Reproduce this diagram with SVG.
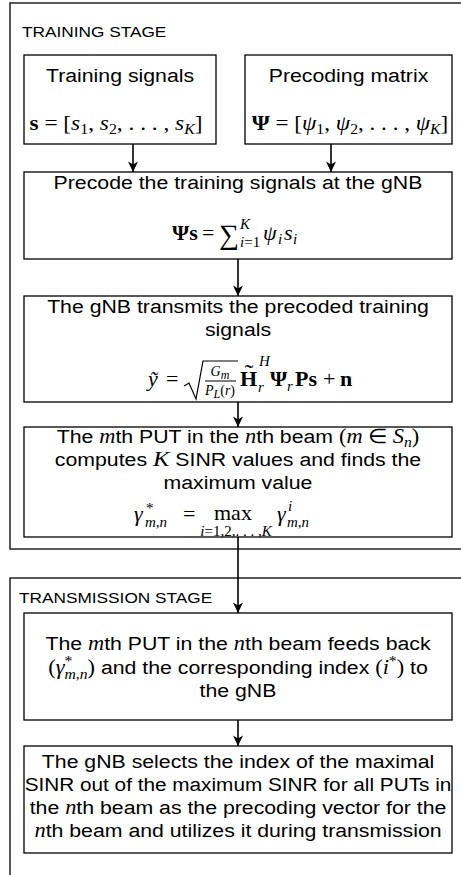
<svg xmlns="http://www.w3.org/2000/svg" width="461" height="875" viewBox="0 0 461 875">
<defs>
<style>
.stage{fill:none;stroke:#000;stroke-width:1.3}
.box{fill:#fff;stroke:#000;stroke-width:1.3}
.st{font-family:"Liberation Sans",Arial,sans-serif;font-size:15px;fill:#000}
.lbl{font-family:"Liberation Sans",Arial,sans-serif;font-size:19px;fill:#000;text-anchor:middle}
.mr{font-family:"Liberation Serif","Times New Roman",serif;font-size:22px;font-style:normal;font-weight:normal}
.mi{font-family:"Liberation Serif","Times New Roman",serif;font-size:22px;font-style:italic;font-weight:normal}
.mb{font-family:"Liberation Serif","Times New Roman",serif;font-size:22px;font-style:normal;font-weight:bold}
.lbl .mi,.lbl .mr{font-size:20px}
.sm{font-size:15px}
.lbl .sm{font-size:14px}
.f14{font-size:14px}
.f15{font-size:15px}
.f12{font-size:12px}
.mid{text-anchor:middle}
.rad{fill:none;stroke:#000;stroke-width:1.2;stroke-linejoin:miter}
.conn line{stroke:#000;stroke-width:1.6;fill:none;marker-end:url(#arr)}
</style>
<marker id="arr" markerWidth="12" markerHeight="12" refX="11" refY="6" orient="auto" markerUnits="userSpaceOnUse">
<path d="M0.5,1 L11,6 L0.5,11 L3.5,6 Z" fill="#000"/>
</marker>
</defs>
<rect x="0" y="0" width="461" height="875" fill="#fff"/>

<g id="training-stage">
<rect class="stage" x="10" y="3" width="470" height="546"/>
<text class="st" transform="translate(22 0) scale(1.15 1)" x="0" y="37">TRAINING STAGE</text>
</g>
<g id="transmission-stage">
<rect class="stage" x="10" y="578" width="470" height="320"/>
<text class="st" transform="translate(19 0) scale(1.15 1)" x="0" y="603">TRANSMISSION STAGE</text>
</g>

<g id="training-signals">
<rect class="box" x="24" y="55" width="192" height="89"/>
<text class="lbl" transform="translate(120 0) scale(1.12 1)" x="0" y="82">Training signals</text>
<text class="mr mid" transform="translate(116 0) scale(1.06 1)" x="0" y="130"><tspan class="mb">s</tspan> = [<tspan class="mi">s</tspan><tspan class="sm" dy="4">1</tspan><tspan dy="-4">, </tspan><tspan class="mi">s</tspan><tspan class="sm" dy="4">2</tspan><tspan dy="-4">, . . . , </tspan><tspan class="mi">s</tspan><tspan class="mi sm" dy="4">K</tspan><tspan dy="-4">]</tspan></text>
</g>

<g id="precoding-matrix">
<rect class="box" x="245" y="55" width="207" height="89"/>
<text class="lbl" transform="translate(348.5 0) scale(1.12 1)" x="0" y="82">Precoding matrix</text>
<text class="mr mid" transform="translate(350 0) scale(1.05 1)" x="0" y="130"><tspan class="mb">Ψ</tspan> = [<tspan class="mi">ψ</tspan><tspan class="sm" dy="4">1</tspan><tspan dy="-4">, </tspan><tspan class="mi">ψ</tspan><tspan class="sm" dy="4">2</tspan><tspan dy="-4">, . . . , </tspan><tspan class="mi">ψ</tspan><tspan class="mi sm" dy="4">K</tspan><tspan dy="-4">]</tspan></text>
</g>

<g id="precode">
<rect class="box" x="24" y="172" width="428" height="87"/>
<text class="lbl" transform="translate(238 0) scale(1.12 1)" x="0" y="189">Precode the training signals at the gNB</text>
<text class="mb" x="172" y="240">Ψs</text>
<text class="mr" x="202" y="240">=</text>
<text class="mr" x="219" y="244" style="font-size:28px">∑</text>
<text class="mi sm" x="240" y="229">K</text>
<text class="sm" x="240" y="247"><tspan class="mi sm">i</tspan><tspan class="mr sm">=1</tspan></text>
<text class="mi" x="263" y="240">ψ</text>
<text class="mi sm" x="278" y="244">i</text>
<text class="mi" x="284" y="240">s</text>
<text class="mi sm" x="293" y="244">i</text>
</g>

<g id="transmit">
<rect class="box" x="24" y="296" width="428" height="106"/>
<text class="lbl" transform="translate(238 0) scale(1.12 1)" x="0" y="313">The gNB transmits the precoded training</text>
<text class="lbl" transform="translate(238 0) scale(1.12 1)" x="0" y="336">signals</text>
<text class="mi" x="148" y="386">ỹ</text>
<text class="mr" x="166" y="386">=</text>
<polyline class="rad" points="184,386 189,383 196,399 203,361 238,361"/>
<text class="mi mid f14" x="220" y="376">G<tspan class="f12" dy="3">m</tspan></text>
<line x1="205" y1="381" x2="236" y2="381" stroke="#000" stroke-width="1"/>
<text class="mi mid f14" x="220" y="395">P<tspan class="f12" dy="3">L</tspan><tspan class="mr f14" dy="-3">(</tspan>r<tspan class="mr f14">)</tspan></text>
<text class="mb" x="240" y="386">H</text>
<text class="mr mid" x="249" y="382" style="font-size:26px">˜</text>
<text class="mi sm" x="259" y="366">H</text>
<text class="mi sm" x="258" y="392">r</text>
<text class="mb" x="270" y="386">Ψ</text>
<text class="mi sm" x="287" y="391">r</text>
<text class="mb" x="295" y="386">Ps</text>
<text class="mr" x="323" y="386">+</text>
<text class="mb" x="340" y="386">n</text>
</g>

<g id="compute-sinr">
<rect class="box" x="24" y="427" width="428" height="110"/>
<text class="lbl" transform="translate(238 0) scale(1.12 1)" x="0" y="443">The <tspan class="mi">m</tspan>th PUT in the <tspan class="mi">n</tspan>th beam <tspan class="mr">(</tspan><tspan class="mi">m</tspan><tspan class="mr"> ∈ </tspan><tspan class="mi">S</tspan><tspan class="mi sm" dy="4">n</tspan><tspan class="mr" dy="-4">)</tspan></text>
<text class="lbl" transform="translate(238 0) scale(1.12 1)" x="0" y="466">computes <tspan class="mi" style="font-size:22px">K</tspan> SINR values and finds the</text>
<text class="lbl" transform="translate(238 0) scale(1.12 1)" x="0" y="489">maximum value</text>
<text class="mi" x="134" y="521">γ</text>
<text class="mr sm" x="146" y="513">*</text>
<text class="mi sm" x="145" y="527">m,n</text>
<text class="mr" x="183" y="521">=</text>
<text class="mr" x="214" y="520">max</text>
<text class="mid" x="236" y="536"><tspan class="mi f15">i</tspan><tspan class="mr f15">=1,2,. . . ,</tspan><tspan class="mi f15">K</tspan></text>
<text class="mi" x="277" y="521">γ</text>
<text class="mi sm" x="288" y="511">i</text>
<text class="mi sm" x="287" y="527">m,n</text>
</g>

<g id="feedback">
<rect class="box" x="24" y="613" width="428" height="107"/>
<text class="lbl" transform="translate(238 0) scale(1.12 1)" x="0" y="650">The <tspan class="mi">m</tspan>th PUT in the <tspan class="mi">n</tspan>th beam feeds back</text>
<text class="lbl" transform="translate(238 0) scale(1.12 1)" x="0" y="674"><tspan class="mr">(</tspan><tspan class="mi">γ</tspan><tspan class="mr sm" dy="-8">*</tspan><tspan class="mi sm" dx="-7" dy="13">m,n</tspan><tspan class="mr" dy="-5">)</tspan> and the corresponding index <tspan class="mr">(</tspan><tspan class="mi">i</tspan><tspan class="mr sm" dy="-8">*</tspan><tspan class="mr" dy="8">)</tspan> to</text>
<text class="lbl" transform="translate(238 0) scale(1.12 1)" x="0" y="697">the gNB</text>
</g>

<g id="select">
<rect class="box" x="24" y="746" width="428" height="107"/>
<text class="lbl" transform="translate(238 0) scale(1.12 1)" x="0" y="768">The gNB selects the index of the maximal</text>
<text class="lbl" transform="translate(238 0) scale(1.12 1)" x="0" y="791" textLength="381" lengthAdjust="spacingAndGlyphs">SINR out of the maximum SINR for all PUTs in</text>
<text class="lbl" transform="translate(238 0) scale(1.12 1)" x="0" y="814">the <tspan class="mi">n</tspan>th beam as the precoding vector for the</text>
<text class="lbl" transform="translate(238 0) scale(1.12 1)" x="0" y="837"><tspan class="mi">n</tspan>th beam and utilizes it during transmission</text>
</g>

<g id="connectors" class="conn">
<line x1="133" y1="144" x2="133" y2="172"/>
<line x1="331" y1="144" x2="331" y2="172"/>
<line x1="238" y1="259" x2="238" y2="296"/>
<line x1="238" y1="402" x2="238" y2="427"/>
<line x1="238" y1="537" x2="238" y2="613"/>
<line x1="238" y1="720" x2="238" y2="746"/>
</g>
</svg>
